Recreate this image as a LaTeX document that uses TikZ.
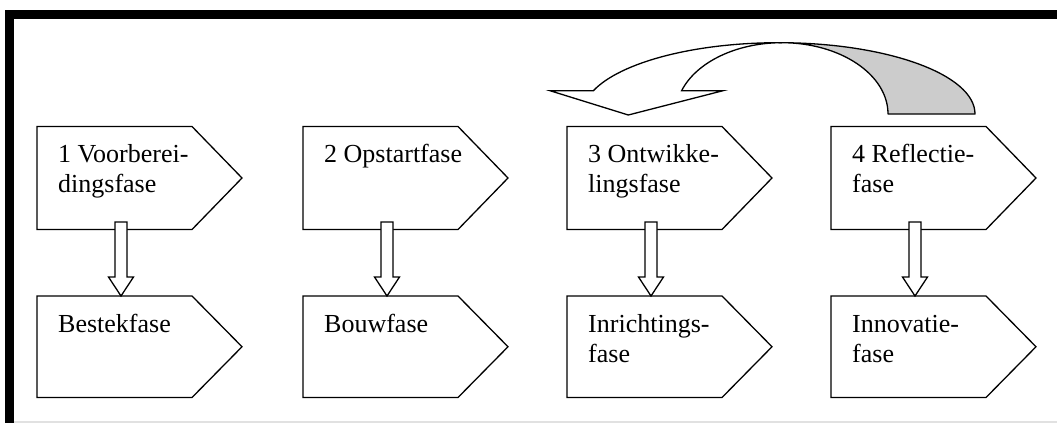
\documentclass[tikz,border=0pt]{standalone}
\usepackage{fontspec}
\setmainfont{Liberation Serif}
\usetikzlibrary{calc}
\definecolor{ribbonback}{RGB}{204,204,204}
\definecolor{framegray}{RGB}{225,225,225}
\tikzset{
  body/.style={minimum width=155pt, minimum height=103pt, inner sep=0pt, outer sep=0pt, anchor=north west},
  lowbody/.style={body, minimum height=101.5pt},
  phasetext/.style={anchor=north west, inner sep=0pt, align=left, font=\fontsize{26}{30}\selectfont},
  outline/.style={draw=black, line width=1.3pt, line join=miter, fill=white},
  blk/.style={draw=black, line width=1.3pt, line join=miter, fill=white},
}
% five-sided phase box built on a named body node
\newcommand\pentagon[1]{\draw[outline] (#1.north west) -- (#1.north east) -- ([xshift=50pt]#1.east) -- (#1.south east) -- (#1.south west) -- cycle;}
% hollow block arrow pointing down from #1 to #2
\newcommand\blockarrow[2]{\draw[blk] let \p1=(#1), \p2=(#2) in
  (\x1-6pt,\y1) -- (\x1+6pt,\y1) -- (\x1+6pt,\y2+19pt) -- (\x1+12.5pt,\y2+19pt)
  -- (\x1,\y2) -- (\x1-12.5pt,\y2+19pt) -- (\x1-6pt,\y2+19pt) -- cycle;}
\begin{document}
\begin{tikzpicture}[x=1pt,y=-1pt]
\useasboundingbox (0,0) rectangle (1057,423);
% frame
\fill[black] (5,10) rectangle (1057,19);
\fill[black] (5,10) rectangle (14,423);
\draw[framegray, line width=1.5pt] (14,421.8) -- (1057,421.8);

% phase boxes
\foreach \i/\xx in {1/37,2/303,3/567,4/831}{
  \node[body] (u\i) at (\xx,126.5) {};
  \node[lowbody] (l\i) at (\xx,296) {};
}
\foreach \i in {1,...,4}{\pentagon{u\i}\pentagon{l\i}}

% texts
\node[phasetext] (tu1) at ($(u1.north west)+(21,15)$) {\strut 1 Voorberei-\\dingsfase};
\node[phasetext] (tu2) at ($(u2.north west)+(21,15)$) {\strut 2 Opstartfase};
\node[phasetext] (tu3) at ($(u3.north west)+(21,15)$) {\strut 3 Ontwikke-\\lingsfase};
\node[phasetext] (tu4) at ($(u4.north west)+(21,15)$) {\strut 4 Reflectie-\\fase};
\node[phasetext] (tl1) at ($(l1.north west)+(21,15)$) {\strut Bestekfase};
\node[phasetext] (tl2) at ($(l2.north west)+(21,15)$) {\strut Bouwfase};
\node[phasetext] (tl3) at ($(l3.north west)+(21,15)$) {\strut Inrichtings-\\fase};
\node[phasetext] (tl4) at ($(l4.north west)+(21,15)$) {\strut Innovatie-\\fase};

% downward block arrows
\foreach \i in {1,...,4}{
  \blockarrow{$(u\i.south west)+(84,-7.5)$}{$(l\i.north west)+(84,0)$}
}

% curved arrow from phase 4 back to phase 3
\coordinate (peakA) at (778.8,42.7);
\coordinate (peakB) at (781.9,42.7);
\filldraw[draw=black, fill=ribbonback, line width=1.3pt, line join=round]
  (888,114) -- (975,114)
  arc[start angle=0, end angle=-90, x radius=196.2, y radius=71.3]
  -- (peakB)
  arc[start angle=-90, end angle=0, x radius=106.1, y radius=71.3] -- cycle;
\filldraw[draw=black, fill=white, line width=1.3pt, line join=miter]
  (550,90.7) -- (628.3,115) -- (723,90.7) -- (681.6,90.7)
  arc[start angle=-160.93, end angle=-90, x radius=106.1, y radius=71.3]
  -- (peakA)
  arc[start angle=-90, end angle=-160.93, x radius=196.2, y radius=71.3] -- cycle;
\end{tikzpicture}
\end{document}
